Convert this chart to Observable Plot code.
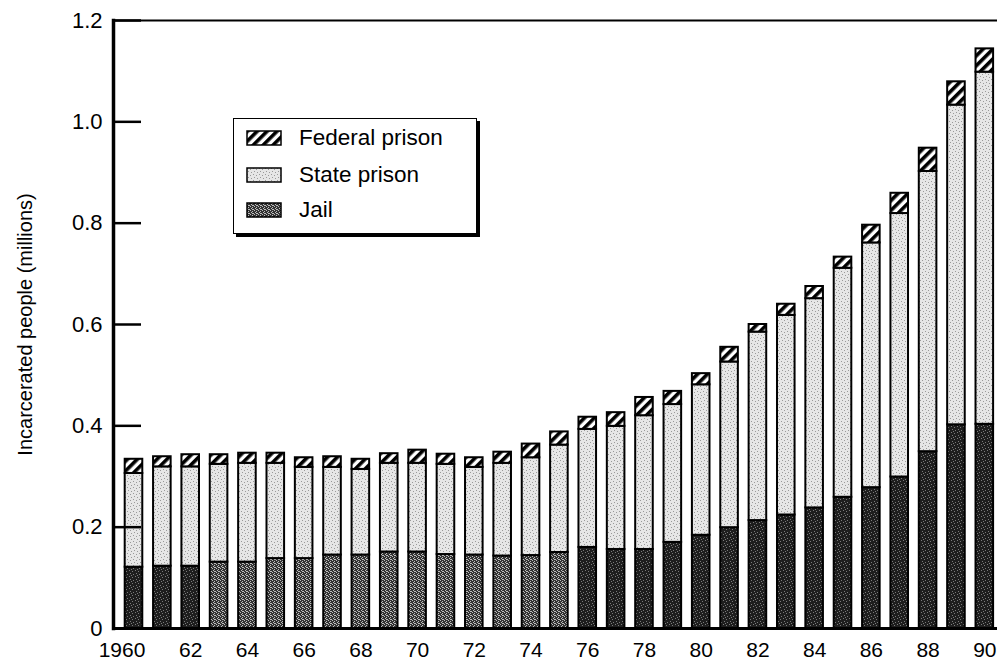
<!DOCTYPE html>
<html><head><meta charset="utf-8">
<script src="https://cdn.jsdelivr.net/npm/d3@7"></script>
<script src="https://cdn.jsdelivr.net/npm/@observablehq/plot@0.6"></script>
<style>
body{margin:0;background:#fff;overflow:hidden;font-family:"Liberation Sans",Arial,sans-serif;}
#wrap{position:relative;width:997px;height:660px;}
#legend{position:absolute;left:233px;top:118px;width:244px;height:116px;border:1.5px solid #000;box-shadow:3px 3px 0 #000;background:#fff;box-sizing:border-box;}
.row{position:absolute;left:12px;height:16px;display:flex;align-items:center;font-size:22.5px;color:#000;white-space:nowrap;}
.row svg{margin-right:17px;flex:none;}
</style></head><body><div id="wrap"></div>
<script>
const years = [1960,1961,1962,1963,1964,1965,1966,1967,1968,1969,1970,1971,1972,1973,1974,1975,1976,1977,1978,1979,1980,1981,1982,1983,1984,1985,1986,1987,1988,1989,1990];
const jail    = [0.121,0.123,0.123,0.131,0.131,0.138,0.138,0.145,0.145,0.151,0.151,0.146,0.145,0.143,0.144,0.150,0.160,0.156,0.156,0.170,0.184,0.199,0.213,0.224,0.238,0.259,0.278,0.299,0.349,0.402,0.403];
const state   = [0.185,0.196,0.196,0.193,0.195,0.188,0.180,0.173,0.169,0.175,0.175,0.178,0.173,0.183,0.193,0.212,0.233,0.243,0.264,0.272,0.297,0.327,0.372,0.394,0.413,0.452,0.483,0.520,0.553,0.631,0.695];
const federal = [0.028,0.020,0.024,0.019,0.020,0.020,0.019,0.021,0.020,0.019,0.026,0.020,0.019,0.022,0.027,0.026,0.024,0.027,0.036,0.026,0.022,0.029,0.015,0.022,0.024,0.022,0.035,0.040,0.046,0.046,0.046];
const seriesNames = ["Jail","State prison","Federal prison"];
const legendOrder = ["Federal prison","State prison","Jail"];
const xTicks = [1960,1962,1964,1966,1968,1970,1972,1974,1976,1978,1980,1982,1984,1986,1988,1990];
const xTickLabels = ["1960","62","64","66","68","70","72","74","76","78","80","82","84","86","88","90"];
const yTicks = [0,0.2,0.4,0.6,0.8,1.0,1.2];
const yTickLabels = ["0","0.2","0.4","0.6","0.8","1.0","1.2"];
const yLabel = "Incarcerated people (millions)";

// print tone of the jail screen varies in the scan: mid-gray screen in the mid 1960s–70s
const jailMidYears = [1963,1964,1965,1966,1967,1968,1969,1970,1971,1972,1973,1974,1975];

const fills = {"Jail":"url(#pjail)","Jail mid":"url(#pjailmid)","State prison":"url(#pstate)","Federal prison":"url(#phatch)"};
const fillKeys = ["Jail","Jail mid","State prison","Federal prison"];
const seriesValues = {"Jail":jail,"State prison":state,"Federal prison":federal};

const data = [];
years.forEach((yr,i)=>{
  seriesNames.forEach(s=>data.push({year:yr, series:s, value:seriesValues[s][i]}));
});
const fillKey = d => (d.series === "Jail" && jailMidYears.includes(d.year)) ? "Jail mid" : d.series;
const xLabel = d => xTickLabels[xTicks.indexOf(d)];

const W = 997, H = 660, ML = 113, MR = 0, MT = 20, MB = 32;
const font = '"Liberation Sans", Arial, Helvetica, sans-serif';

const chart = Plot.plot({
  width: W, height: H, marginLeft: ML, marginRight: MR, marginTop: MT, marginBottom: MB,
  style: {fontFamily: font, fontSize: "21px", background: "#fff", color: "#000"},
  x: {type: "band", domain: years, paddingInner: 0.38, paddingOuter: 0.275, align: 0.75, round: false, label: null},
  y: {domain: [0, 1.2], label: null},
  color: {domain: fillKeys, range: fillKeys.map(s=>fills[s])},
  marks: [
    Plot.barY(data, Plot.stackY({x: "year", y: "value", z: "series", fill: fillKey, order: seriesNames, stroke: "#000", strokeWidth: 2})),
    Plot.ruleY([0], {stroke: "#000", strokeWidth: 3}),
    Plot.ruleY([1.2], {stroke: "#000", strokeWidth: 2}),
    Plot.frame({anchor: "left", stroke: "#000", strokeWidth: 3.5}),
    Plot.axisX({ticks: xTicks.slice(1), tickFormat: xLabel, tickSize: 0, tickPadding: 14, fontSize: 21, label: null}),
    Plot.axisX({ticks: xTicks.slice(0, 1), tickFormat: xLabel, tickSize: 0, tickPadding: 14, fontSize: 21, dx: -12, label: null}),
    Plot.axisY({ticks: yTicks, tickFormat: d => yTickLabels[yTicks.indexOf(d)], tickSize: 0, tickPadding: 11, fontSize: 22, label: null}),
    Plot.axisY({ticks: yTicks, tickFormat: () => "", tickSize: -28, stroke: "#000", strokeWidth: 2.5, label: null}),
    Plot.axisY({ticks: [], tickSize: 0, label: yLabel, labelAnchor: "center", labelArrow: "none", labelOffset: 96, fontSize: 20})
  ]
});

// patterns
const defs = d3.select(chart).insert("defs", ":first-child");
const ph = defs.append("pattern").attr("id","phatch").attr("patternUnits","userSpaceOnUse")
  .attr("width",7).attr("height",7).attr("patternTransform","rotate(45)");
ph.append("rect").attr("width",7).attr("height",7).attr("fill","#fff");
ph.append("rect").attr("width",3.6).attr("height",7).attr("fill","#000");

const ps = defs.append("pattern").attr("id","pstate").attr("patternUnits","userSpaceOnUse")
  .attr("width",6).attr("height",6);
ps.append("rect").attr("width",6).attr("height",6).attr("fill","#e6e6e6");
[[1,1],[4,2],[2,4],[5,5]].forEach(([a,b])=>ps.append("rect").attr("x",a).attr("y",b).attr("width",1).attr("height",1).attr("fill","#9a9a9a"));

const pj = defs.append("pattern").attr("id","pjail").attr("patternUnits","userSpaceOnUse")
  .attr("width",6).attr("height",6);
pj.append("rect").attr("width",6).attr("height",6).attr("fill","#1e1e1e");
[[0,1],[3,0],[4,3],[1,4],[5,5]].forEach(([a,b])=>pj.append("rect").attr("x",a).attr("y",b).attr("width",1).attr("height",1).attr("fill","#7a7a7a"));

const pm = defs.append("pattern").attr("id","pjailmid").attr("patternUnits","userSpaceOnUse")
  .attr("width",4).attr("height",4);
pm.append("rect").attr("width",4).attr("height",4).attr("fill","#333");
[[0,0],[2,1],[1,2],[3,3],[2,3]].forEach(([a,b])=>pm.append("rect").attr("x",a).attr("y",b).attr("width",1).attr("height",1).attr("fill","#bdbdbd"));

const wrap = document.getElementById("wrap");
wrap.appendChild(chart);

// legend
const legendFill = {"Federal prison":"url(#phatch)","State prison":"url(#pstate)","Jail":"url(#pjailmid)"};
const legend = document.createElement("div");
legend.id = "legend";
const rowTops = [11, 48, 83];
legendOrder.forEach((s,i)=>{
  const row = document.createElement("div");
  row.className = "row";
  row.style.top = rowTops[i] + "px";
  row.innerHTML = `<svg width="36" height="16"><rect x="1" y="1" width="34" height="14" fill="${legendFill[s]}" stroke="#000" stroke-width="1.5"/></svg><span>${s}</span>`;
  legend.appendChild(row);
});
wrap.appendChild(legend);
</script></body></html>
